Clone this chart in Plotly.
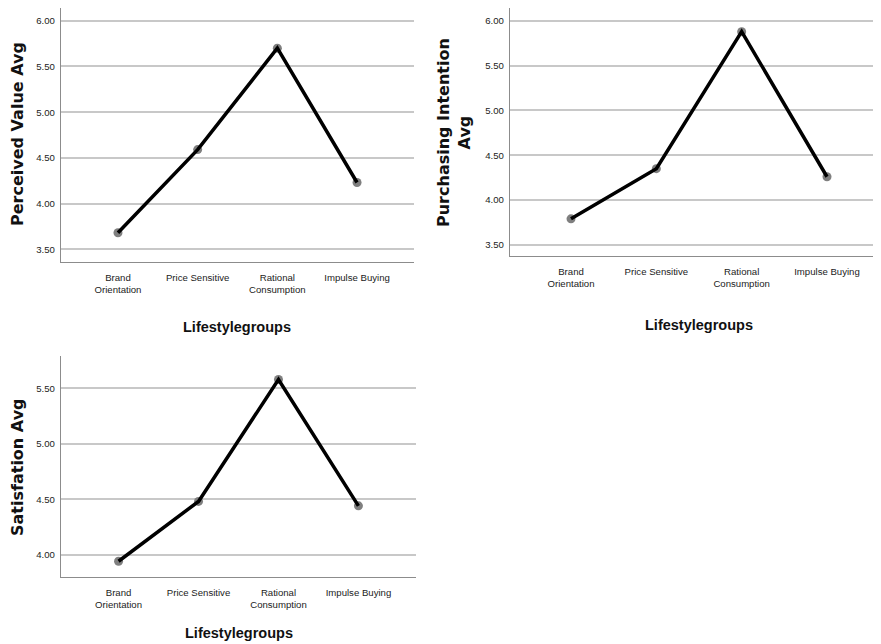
import plotly.graph_objects as go

categories = ["Brand<br>Orientation", "Price Sensitive", "Rational<br>Consumption", "Impulse Buying"]
perceived_value = [3.68, 4.59, 5.70, 4.23]
purchasing_intention = [3.79, 4.35, 5.88, 4.26]
satisfaction = [3.94, 4.48, 5.58, 4.44]
ticks_top = [3.5, 4.0, 4.5, 5.0, 5.5, 6.0]
ticks_bottom = [4.0, 4.5, 5.0, 5.5]

# page body has an 8px default margin; work in screen pixels and convert
OFF = 8
W, H = 881 - OFF, 644 - OFF


def fx(x):
    return min(max((x - OFF) / W, 0.0), 1.0)


def fy(y):
    return min(max(1 - (y - OFF) / H, 0.0), 1.0)


TICKFONT = dict(family="Liberation Sans, Arial, sans-serif", size=9.6, color="#222")
YTITLEFONT = dict(family="DejaVu Sans, Liberation Sans, sans-serif", size=16, color="#111", weight="bold")
XTITLEFONT = dict(family="Liberation Sans, Arial, sans-serif", size=14.5, color="#111", weight="bold")

fig = go.Figure()

panels = [
    dict(vals=perceived_value, xa="x", ya="y", box=(61, 414, 8, 262),
         yr=[3.36, 6.14], xr=[-0.715, 3.715], yt=ticks_top),
    dict(vals=purchasing_intention, xa="x2", ya="y2", box=(510, 881, 8, 256),
         yr=[3.375, 6.144], xr=[-0.715, 3.633], yt=ticks_top),
    dict(vals=satisfaction, xa="x3", ya="y3", box=(61, 416, 356, 577),
         yr=[3.798, 5.792], xr=[-0.72, 3.72], yt=ticks_bottom),
]

for i, p in enumerate(panels):
    l, r, t, b = p["box"]
    fig.add_trace(go.Scatter(x=categories, y=p["vals"], mode="markers", xaxis=p["xa"], yaxis=p["ya"],
                             marker=dict(color="#7f7f7f", size=9), showlegend=False, hoverinfo="skip",
                             cliponaxis=False))
    fig.add_trace(go.Scatter(x=categories, y=p["vals"], mode="lines", xaxis=p["xa"], yaxis=p["ya"],
                             line=dict(color="#000000", width=3.5), showlegend=False))
    sfx = "" if i == 0 else str(i + 1)
    fig.layout["xaxis" + sfx] = dict(
        domain=[fx(l), fx(r)], anchor="y" + sfx, range=p["xr"], type="category", automargin=False,
        showgrid=False, zeroline=False, showline=True, linecolor="#8c8c8c", linewidth=1.2,
        ticks="outside", ticklen=6, tickcolor="rgba(0,0,0,0)", tickfont=TICKFONT,
        categoryorder="array", categoryarray=categories,
    )
    fig.layout["yaxis" + sfx] = dict(
        domain=[fy(b), fy(t)], anchor="x" + sfx, range=p["yr"], tickvals=p["yt"], tickformat=".2f",
        automargin=False,
        showgrid=True, gridcolor="#c8c8c8", gridwidth=1.5, zeroline=False,
        showline=True, linecolor="#8c8c8c", linewidth=1.2,
        ticks="outside", ticklen=3, tickcolor="rgba(0,0,0,0)", tickfont=TICKFONT,
    )

annotations = [
    dict(text="Perceived Value Avg", x=17, y=134, textangle=-90, font=YTITLEFONT),
    dict(text="Purchasing Intention<br>Avg", x=454, y=132, textangle=-90, font=YTITLEFONT),
    dict(text="Satisfation Avg", x=17, y=467, textangle=-90, font=YTITLEFONT),
    dict(text="Lifestylegroups", x=237, y=327, font=XTITLEFONT),
    dict(text="Lifestylegroups", x=699, y=325, font=XTITLEFONT),
    dict(text="Lifestylegroups", x=239, y=633, font=XTITLEFONT),
]
for a in annotations:
    fig.add_annotation(text=a["text"], x=fx(a["x"]), y=fy(a["y"]), xref="paper", yref="paper",
                       xanchor="center", yanchor="middle", showarrow=False,
                       textangle=a.get("textangle", 0), font=a["font"])

fig.update_layout(width=W, height=H, margin=dict(l=0, r=0, t=0, b=0, autoexpand=False),
                  paper_bgcolor="white", plot_bgcolor="white", showlegend=False)

fig.write_html("out.html")
